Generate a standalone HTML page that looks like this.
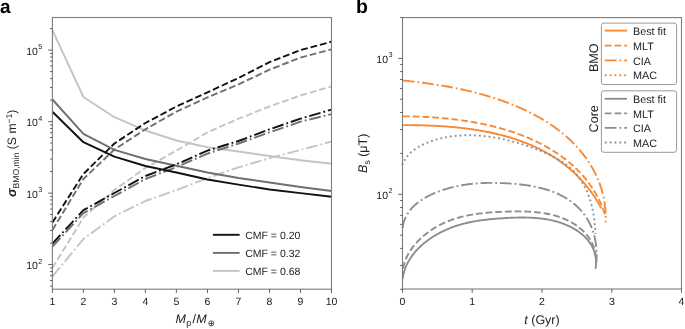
<!DOCTYPE html>
<html><head><meta charset="utf-8"><style>
html,body{margin:0;padding:0;background:#fff;}
svg{display:block;will-change:transform;}
text{font-family:"Liberation Sans", sans-serif;text-rendering:geometricPrecision;}
</style></head><body>
<svg width="685" height="329" viewBox="0 0 685 329" font-family="Liberation Sans, sans-serif">
<rect width="685" height="329" fill="#fff"/>
<text x="-0.1" y="12.9" font-size="19" font-weight="bold" fill="#000">a</text>
<text x="356.1" y="12.9" font-size="19.5" font-weight="bold" fill="#000">b</text>
<g fill="none" stroke-width="1.9" stroke-linejoin="round">
<polyline points="52.4,30.2 83.4,97.0 114.4,117.2 145.4,130.5 176.4,140.5 207.5,147.2 238.5,151.5 269.5,156.0 300.5,160.3 331.5,163.7" stroke="#c4c4c4"/>
<polyline points="52.4,268.0 83.4,217.5 114.4,190.0 145.4,168.0 176.4,150.6 207.5,132.4 238.5,118.7 269.5,106.5 300.5,95.5 331.5,86.4" stroke="#c4c4c4" stroke-dasharray="6.77 2.93"/>
<polyline points="52.4,276.5 83.4,239.0 114.4,216.3 145.4,201.0 176.4,190.1 207.5,178.0 238.5,167.3 269.5,158.2 300.5,150.0 331.5,141.5" stroke="#c4c4c4" stroke-dasharray="11.71 2.93 1.83 2.93"/>
<polyline points="52.4,99.5 83.4,133.9 114.4,149.8 145.4,159.0 176.4,165.8 207.5,172.5 238.5,178.0 269.5,182.5 300.5,187.0 331.5,191.0" stroke="#6f6f6f"/>
<polyline points="52.4,230.0 83.4,179.0 114.4,149.5 145.4,129.3 176.4,111.6 207.5,97.4 238.5,84.4 269.5,69.7 300.5,57.6 331.5,49.3" stroke="#6f6f6f" stroke-dasharray="6.77 2.93"/>
<polyline points="52.4,246.7 83.4,213.2 114.4,196.0 145.4,179.0 176.4,167.0 207.5,153.6 238.5,143.5 269.5,132.4 300.5,121.7 331.5,114.1" stroke="#6f6f6f" stroke-dasharray="11.71 2.93 1.83 2.93"/>
<polyline points="52.4,111.7 83.4,142.2 114.4,156.7 145.4,166.0 176.4,172.5 207.5,179.5 238.5,184.6 269.5,189.5 300.5,193.1 331.5,196.8" stroke="#111"/>
<polyline points="52.4,222.4 83.4,174.0 114.4,143.5 145.4,123.0 176.4,106.5 207.5,92.3 238.5,78.0 269.5,62.1 300.5,50.0 331.5,41.7" stroke="#111" stroke-dasharray="6.77 2.93"/>
<polyline points="52.4,243.6 83.4,210.2 114.4,193.0 145.4,176.0 176.4,164.3 207.5,150.6 238.5,141.0 269.5,129.3 300.5,118.7 331.5,109.6" stroke="#111" stroke-dasharray="11.71 2.93 1.83 2.93"/>
</g>
<line x1="212.9" y1="234.8" x2="239.6" y2="234.8" stroke="#111" stroke-width="1.9"/>
<text x="245.2" y="238.7" font-size="10.5" fill="#222">CMF = 0.20</text>
<line x1="212.9" y1="252.9" x2="239.6" y2="252.9" stroke="#6f6f6f" stroke-width="1.9"/>
<text x="245.2" y="256.8" font-size="10.5" fill="#222">CMF = 0.32</text>
<line x1="212.9" y1="270.9" x2="239.6" y2="270.9" stroke="#c4c4c4" stroke-width="1.9"/>
<text x="245.2" y="274.8" font-size="10.5" fill="#222">CMF = 0.68</text>
<rect x="52.4" y="17.5" width="279.1" height="271.7" fill="none" stroke="#7c7c7c" stroke-width="1.1"/>
<line x1="52.4" y1="289.2" x2="52.4" y2="293.0" stroke="#555" stroke-width="0.9"/>
<text x="52.4" y="305.3" font-size="10.5" text-anchor="middle" fill="#222">1</text>
<line x1="83.4" y1="289.2" x2="83.4" y2="293.0" stroke="#555" stroke-width="0.9"/>
<text x="83.4" y="305.3" font-size="10.5" text-anchor="middle" fill="#222">2</text>
<line x1="114.4" y1="289.2" x2="114.4" y2="293.0" stroke="#555" stroke-width="0.9"/>
<text x="114.4" y="305.3" font-size="10.5" text-anchor="middle" fill="#222">3</text>
<line x1="145.4" y1="289.2" x2="145.4" y2="293.0" stroke="#555" stroke-width="0.9"/>
<text x="145.4" y="305.3" font-size="10.5" text-anchor="middle" fill="#222">4</text>
<line x1="176.4" y1="289.2" x2="176.4" y2="293.0" stroke="#555" stroke-width="0.9"/>
<text x="176.4" y="305.3" font-size="10.5" text-anchor="middle" fill="#222">5</text>
<line x1="207.5" y1="289.2" x2="207.5" y2="293.0" stroke="#555" stroke-width="0.9"/>
<text x="207.5" y="305.3" font-size="10.5" text-anchor="middle" fill="#222">6</text>
<line x1="238.5" y1="289.2" x2="238.5" y2="293.0" stroke="#555" stroke-width="0.9"/>
<text x="238.5" y="305.3" font-size="10.5" text-anchor="middle" fill="#222">7</text>
<line x1="269.5" y1="289.2" x2="269.5" y2="293.0" stroke="#555" stroke-width="0.9"/>
<text x="269.5" y="305.3" font-size="10.5" text-anchor="middle" fill="#222">8</text>
<line x1="300.5" y1="289.2" x2="300.5" y2="293.0" stroke="#555" stroke-width="0.9"/>
<text x="300.5" y="305.3" font-size="10.5" text-anchor="middle" fill="#222">9</text>
<line x1="331.5" y1="289.2" x2="331.5" y2="293.0" stroke="#555" stroke-width="0.9"/>
<text x="331.5" y="305.3" font-size="10.5" text-anchor="middle" fill="#222">10</text>
<line x1="50.0" y1="286.1" x2="52.4" y2="286.1" stroke="#555" stroke-width="0.9"/>
<line x1="50.0" y1="280.5" x2="52.4" y2="280.5" stroke="#555" stroke-width="0.9"/>
<line x1="50.0" y1="275.7" x2="52.4" y2="275.7" stroke="#555" stroke-width="0.9"/>
<line x1="50.0" y1="271.5" x2="52.4" y2="271.5" stroke="#555" stroke-width="0.9"/>
<line x1="50.0" y1="267.9" x2="52.4" y2="267.9" stroke="#555" stroke-width="0.9"/>
<line x1="48.2" y1="264.6" x2="52.4" y2="264.6" stroke="#555" stroke-width="0.9"/>
<line x1="50.0" y1="243.1" x2="52.4" y2="243.1" stroke="#555" stroke-width="0.9"/>
<line x1="50.0" y1="230.5" x2="52.4" y2="230.5" stroke="#555" stroke-width="0.9"/>
<line x1="50.0" y1="221.6" x2="52.4" y2="221.6" stroke="#555" stroke-width="0.9"/>
<line x1="50.0" y1="214.6" x2="52.4" y2="214.6" stroke="#555" stroke-width="0.9"/>
<line x1="50.0" y1="209.0" x2="52.4" y2="209.0" stroke="#555" stroke-width="0.9"/>
<line x1="50.0" y1="204.2" x2="52.4" y2="204.2" stroke="#555" stroke-width="0.9"/>
<line x1="50.0" y1="200.0" x2="52.4" y2="200.0" stroke="#555" stroke-width="0.9"/>
<line x1="50.0" y1="196.4" x2="52.4" y2="196.4" stroke="#555" stroke-width="0.9"/>
<text x="37.9" y="269.0" font-size="10.5" text-anchor="end" fill="#222">10</text>
<text x="38.3" y="263.8" font-size="7.2" fill="#222">2</text>
<line x1="48.2" y1="193.1" x2="52.4" y2="193.1" stroke="#555" stroke-width="0.9"/>
<line x1="50.0" y1="171.6" x2="52.4" y2="171.6" stroke="#555" stroke-width="0.9"/>
<line x1="50.0" y1="159.0" x2="52.4" y2="159.0" stroke="#555" stroke-width="0.9"/>
<line x1="50.0" y1="150.1" x2="52.4" y2="150.1" stroke="#555" stroke-width="0.9"/>
<line x1="50.0" y1="143.1" x2="52.4" y2="143.1" stroke="#555" stroke-width="0.9"/>
<line x1="50.0" y1="137.5" x2="52.4" y2="137.5" stroke="#555" stroke-width="0.9"/>
<line x1="50.0" y1="132.7" x2="52.4" y2="132.7" stroke="#555" stroke-width="0.9"/>
<line x1="50.0" y1="128.5" x2="52.4" y2="128.5" stroke="#555" stroke-width="0.9"/>
<line x1="50.0" y1="124.9" x2="52.4" y2="124.9" stroke="#555" stroke-width="0.9"/>
<text x="37.9" y="197.5" font-size="10.5" text-anchor="end" fill="#222">10</text>
<text x="38.3" y="192.3" font-size="7.2" fill="#222">3</text>
<line x1="48.2" y1="121.6" x2="52.4" y2="121.6" stroke="#555" stroke-width="0.9"/>
<line x1="50.0" y1="100.1" x2="52.4" y2="100.1" stroke="#555" stroke-width="0.9"/>
<line x1="50.0" y1="87.5" x2="52.4" y2="87.5" stroke="#555" stroke-width="0.9"/>
<line x1="50.0" y1="78.6" x2="52.4" y2="78.6" stroke="#555" stroke-width="0.9"/>
<line x1="50.0" y1="71.6" x2="52.4" y2="71.6" stroke="#555" stroke-width="0.9"/>
<line x1="50.0" y1="66.0" x2="52.4" y2="66.0" stroke="#555" stroke-width="0.9"/>
<line x1="50.0" y1="61.2" x2="52.4" y2="61.2" stroke="#555" stroke-width="0.9"/>
<line x1="50.0" y1="57.0" x2="52.4" y2="57.0" stroke="#555" stroke-width="0.9"/>
<line x1="50.0" y1="53.4" x2="52.4" y2="53.4" stroke="#555" stroke-width="0.9"/>
<text x="37.9" y="126.0" font-size="10.5" text-anchor="end" fill="#222">10</text>
<text x="38.3" y="120.8" font-size="7.2" fill="#222">4</text>
<line x1="48.2" y1="50.1" x2="52.4" y2="50.1" stroke="#555" stroke-width="0.9"/>
<line x1="50.0" y1="28.6" x2="52.4" y2="28.6" stroke="#555" stroke-width="0.9"/>
<text x="37.9" y="54.5" font-size="10.5" text-anchor="end" fill="#222">10</text>
<text x="38.3" y="49.3" font-size="7.2" fill="#222">5</text>
<text y="323.2" font-size="12.5" fill="#222"><tspan x="175.6" font-style="italic">M</tspan><tspan x="186.2" font-size="9" dy="2.6">p</tspan><tspan x="192.4" dy="-2.6">/</tspan><tspan x="196.2" font-style="italic">M</tspan><tspan x="207.8" font-size="8.5" dy="3.2">⊕</tspan></text>
<text transform="translate(16.2,153.3) rotate(-90)" font-size="12.2" text-anchor="middle" fill="#222"><tspan font-style="italic" font-weight="bold" font-size="13">σ</tspan><tspan font-size="8.6" dy="3">BMO,min</tspan><tspan dy="-3"> (S m</tspan><tspan font-size="8.6" dy="-4.5">−1</tspan><tspan dy="4.5">)</tspan></text>
<g fill="none" stroke-width="1.9">
<path d="M402.57,228.02 L402.77,226.61 L403.02,225.24 L403.32,223.90 L403.67,222.58 L404.06,221.30 L404.49,220.05 L404.97,218.82 L405.49,217.63 L406.05,216.46 L406.65,215.32 L407.29,214.21 L407.96,213.13 L408.67,212.07 L409.42,211.04 L410.20,210.03 L411.01,209.05 L411.85,208.10 L412.72,207.17 L413.62,206.26 L414.55,205.38 L415.50,204.52 L416.48,203.69 L417.48,202.88 L418.51,202.09 L419.56,201.32 L420.62,200.57 L421.71,199.85 L422.81,199.14 L423.93,198.46 L425.07,197.79 L426.22,197.15 L427.39,196.52 L428.56,195.91 L429.75,195.32 L430.95,194.75 L432.15,194.19 L433.36,193.65 L434.58,193.13 L435.80,192.63 L437.03,192.14 L438.26,191.66 L439.49,191.20 L440.72,190.76 L441.95,190.32 L443.19,189.91 L444.42,189.50 L445.66,189.12 L446.90,188.74 L448.14,188.38 L449.38,188.03 L450.62,187.70 L451.87,187.37 L453.11,187.06 L454.36,186.77 L455.61,186.48 L456.86,186.21 L458.11,185.95 L459.36,185.70 L460.62,185.47 L461.87,185.24 L463.13,185.03 L464.39,184.83 L465.65,184.64 L466.92,184.46 L468.18,184.29 L469.45,184.13 L470.72,183.98 L471.99,183.85 L473.26,183.72 L474.54,183.60 L475.81,183.49 L477.09,183.39 L478.37,183.30 L479.66,183.22 L480.94,183.15 L482.23,183.09 L483.52,183.04 L484.81,182.99 L486.10,182.95 L487.40,182.92 L488.70,182.90 L490.00,182.89 L491.30,182.88 L492.61,182.88 L493.92,182.89 L495.23,182.91 L496.54,182.93 L497.86,182.96 L499.18,183.00 L500.50,183.04 L501.82,183.09 L503.15,183.14 L504.47,183.20 L505.80,183.27 L507.14,183.34 L508.47,183.42 L509.81,183.50 L511.15,183.59 L512.49,183.69 L513.82,183.80 L515.16,183.91 L516.50,184.03 L517.84,184.17 L519.18,184.30 L520.52,184.45 L521.85,184.61 L523.19,184.77 L524.52,184.95 L525.85,185.14 L527.18,185.33 L528.50,185.54 L529.82,185.75 L531.14,185.98 L532.45,186.22 L533.76,186.46 L535.07,186.73 L536.37,187.00 L537.67,187.28 L538.96,187.58 L540.24,187.89 L541.52,188.21 L542.79,188.55 L544.06,188.89 L545.32,189.26 L546.57,189.63 L547.81,190.02 L549.05,190.43 L550.28,190.84 L551.50,191.28 L552.71,191.73 L553.91,192.19 L555.10,192.67 L556.29,193.17 L557.46,193.68 L558.62,194.21 L559.77,194.75 L560.91,195.31 L562.04,195.89 L563.16,196.49 L564.27,197.10 L565.36,197.74 L566.44,198.39 L567.51,199.05 L568.56,199.74 L569.61,200.45 L570.63,201.17 L571.65,201.92 L572.65,202.68 L573.63,203.47 L574.60,204.27 L575.55,205.10 L576.49,205.94 L577.42,206.81 L578.32,207.70 L579.21,208.60 L580.08,209.53 L580.93,210.47 L581.77,211.44 L582.58,212.42 L583.38,213.42 L584.16,214.43 L584.91,215.47 L585.65,216.52 L586.36,217.59 L587.05,218.68 L587.72,219.78 L588.37,220.89 L588.99,222.03 L589.59,223.17 L590.17,224.33 L590.72,225.51 L591.24,226.70 L591.74,227.91 L592.22,229.12 L592.67,230.35 L593.09,231.60 L593.49,232.85 L593.86,234.11 L594.21,235.39 L594.53,236.67 L594.83,237.96 L595.11,239.26 L595.36,240.56 L595.59,241.88 L595.79,243.19 L595.97,244.52 L596.13,245.84 L596.26,247.17 L596.38,248.51 L596.47,249.84 L596.54,251.18 L596.58,252.51 L596.61,253.85 L596.61,255.19 L596.60,256.52 L596.56,257.86 L596.50,259.19 L596.42,260.51 L596.32,261.83" stroke="#8e8e8e" stroke-dasharray="11.71 2.93 1.83 2.93"/>
<path d="M403.03,268.67 L403.25,267.48 L403.50,266.31 L403.78,265.14 L404.10,263.98 L404.44,262.83 L404.82,261.69 L405.23,260.56 L405.66,259.44 L406.13,258.34 L406.62,257.24 L407.15,256.15 L407.70,255.07 L408.27,254.01 L408.87,252.95 L409.50,251.91 L410.15,250.88 L410.82,249.86 L411.52,248.85 L412.24,247.85 L412.98,246.87 L413.75,245.90 L414.53,244.94 L415.33,243.99 L416.15,243.06 L416.99,242.14 L417.85,241.23 L418.73,240.34 L419.62,239.46 L420.52,238.59 L421.45,237.74 L422.38,236.90 L423.33,236.08 L424.30,235.27 L425.27,234.47 L426.26,233.69 L427.26,232.93 L428.27,232.18 L429.29,231.45 L430.31,230.73 L431.35,230.03 L432.39,229.34 L433.45,228.67 L434.50,228.01 L435.57,227.38 L436.63,226.76 L437.71,226.15 L438.78,225.56 L439.87,224.99 L440.95,224.44 L442.04,223.90 L443.13,223.38 L444.23,222.87 L445.33,222.38 L446.43,221.90 L447.54,221.44 L448.66,220.99 L449.77,220.56 L450.89,220.14 L452.01,219.73 L453.14,219.34 L454.27,218.96 L455.41,218.59 L456.54,218.24 L457.69,217.90 L458.83,217.57 L459.98,217.26 L461.13,216.95 L462.29,216.66 L463.44,216.38 L464.61,216.10 L465.77,215.84 L466.94,215.59 L468.11,215.36 L469.29,215.13 L470.46,214.91 L471.65,214.70 L472.83,214.50 L474.02,214.30 L475.21,214.12 L476.40,213.95 L477.60,213.78 L478.80,213.62 L480.00,213.47 L481.21,213.33 L482.41,213.19 L483.62,213.06 L484.84,212.94 L486.06,212.82 L487.27,212.71 L488.50,212.61 L489.72,212.51 L490.95,212.42 L492.18,212.33 L493.41,212.25 L494.65,212.17 L495.88,212.10 L497.13,212.03 L498.37,211.96 L499.61,211.90 L500.86,211.85 L502.11,211.79 L503.36,211.74 L504.62,211.69 L505.87,211.64 L507.13,211.60 L508.39,211.56 L509.65,211.53 L510.92,211.50 L512.18,211.47 L513.44,211.45 L514.71,211.43 L515.98,211.42 L517.24,211.41 L518.51,211.41 L519.77,211.42 L521.04,211.43 L522.30,211.45 L523.56,211.48 L524.82,211.51 L526.08,211.55 L527.34,211.60 L528.60,211.66 L529.85,211.73 L531.11,211.80 L532.36,211.89 L533.60,211.99 L534.85,212.09 L536.09,212.21 L537.32,212.33 L538.56,212.47 L539.79,212.61 L541.01,212.77 L542.23,212.94 L543.45,213.13 L544.66,213.32 L545.87,213.53 L547.07,213.75 L548.26,213.98 L549.46,214.23 L550.64,214.49 L551.82,214.77 L552.99,215.06 L554.16,215.36 L555.31,215.68 L556.47,216.02 L557.61,216.37 L558.75,216.73 L559.88,217.12 L561.00,217.52 L562.11,217.93 L563.22,218.37 L564.31,218.82 L565.40,219.29 L566.48,219.77 L567.55,220.28 L568.61,220.80 L569.66,221.34 L570.70,221.91 L571.73,222.49 L572.75,223.09 L573.76,223.71 L574.76,224.35 L575.75,225.02 L576.72,225.70 L577.69,226.41 L578.64,227.14 L579.58,227.89 L580.51,228.66 L581.42,229.45 L582.32,230.27 L583.20,231.10 L584.06,231.96 L584.91,232.84 L585.73,233.75 L586.52,234.67 L587.30,235.62 L588.04,236.58 L588.76,237.57 L589.45,238.58 L590.12,239.62 L590.75,240.67 L591.34,241.74 L591.91,242.84 L592.44,243.95 L592.94,245.09 L593.41,246.23 L593.84,247.40 L594.25,248.58 L594.61,249.77 L594.95,250.98 L595.26,252.19 L595.53,253.42 L595.77,254.66 L595.97,255.91 L596.15,257.16 L596.29,258.42 L596.40,259.68 L596.47,260.95 L596.51,262.23" stroke="#8e8e8e" stroke-dasharray="6.77 2.93"/>
<path d="M402.74,278.73 L402.90,277.49 L403.09,276.26 L403.31,275.04 L403.57,273.83 L403.87,272.63 L404.20,271.45 L404.56,270.27 L404.95,269.11 L405.37,267.96 L405.82,266.82 L406.30,265.69 L406.81,264.58 L407.35,263.48 L407.91,262.39 L408.51,261.31 L409.12,260.24 L409.77,259.19 L410.44,258.15 L411.13,257.12 L411.85,256.10 L412.58,255.10 L413.35,254.11 L414.13,253.14 L414.93,252.18 L415.76,251.23 L416.60,250.29 L417.46,249.37 L418.34,248.46 L419.24,247.57 L420.16,246.69 L421.09,245.82 L422.04,244.97 L423.00,244.14 L423.97,243.31 L424.96,242.50 L425.97,241.71 L426.98,240.93 L428.01,240.17 L429.05,239.42 L430.09,238.68 L431.15,237.96 L432.22,237.26 L433.29,236.57 L434.38,235.90 L435.47,235.24 L436.56,234.60 L437.66,233.97 L438.77,233.36 L439.88,232.76 L440.99,232.19 L442.11,231.62 L443.23,231.08 L444.36,230.54 L445.49,230.03 L446.62,229.52 L447.75,229.04 L448.89,228.57 L450.03,228.11 L451.18,227.66 L452.33,227.23 L453.48,226.81 L454.63,226.41 L455.79,226.02 L456.95,225.64 L458.12,225.27 L459.28,224.92 L460.45,224.58 L461.62,224.25 L462.80,223.93 L463.98,223.62 L465.16,223.32 L466.35,223.04 L467.53,222.76 L468.72,222.50 L469.92,222.24 L471.11,221.99 L472.31,221.76 L473.51,221.53 L474.72,221.31 L475.92,221.10 L477.13,220.90 L478.35,220.71 L479.56,220.53 L480.78,220.35 L482.00,220.18 L483.22,220.02 L484.45,219.86 L485.67,219.71 L486.90,219.57 L488.13,219.44 L489.37,219.31 L490.61,219.18 L491.84,219.06 L493.09,218.95 L494.33,218.84 L495.58,218.74 L496.82,218.64 L498.07,218.54 L499.33,218.45 L500.58,218.37 L501.84,218.28 L503.10,218.20 L504.36,218.13 L505.62,218.05 L506.88,217.98 L508.15,217.91 L509.42,217.85 L510.68,217.79 L511.95,217.74 L513.22,217.69 L514.49,217.65 L515.77,217.61 L517.04,217.58 L518.31,217.55 L519.58,217.53 L520.85,217.52 L522.12,217.52 L523.39,217.52 L524.66,217.53 L525.93,217.55 L527.20,217.58 L528.46,217.61 L529.73,217.66 L530.99,217.71 L532.25,217.78 L533.51,217.85 L534.77,217.94 L536.02,218.03 L537.27,218.14 L538.52,218.26 L539.77,218.39 L541.01,218.53 L542.25,218.68 L543.49,218.85 L544.72,219.03 L545.95,219.22 L547.17,219.43 L548.39,219.65 L549.60,219.88 L550.82,220.13 L552.02,220.40 L553.22,220.68 L554.42,220.97 L555.61,221.28 L556.79,221.61 L557.97,221.95 L559.15,222.31 L560.31,222.69 L561.47,223.08 L562.63,223.49 L563.78,223.92 L564.92,224.37 L566.05,224.84 L567.18,225.32 L568.30,225.83 L569.41,226.35 L570.52,226.90 L571.61,227.46 L572.70,228.04 L573.77,228.65 L574.84,229.27 L575.89,229.92 L576.93,230.59 L577.95,231.27 L578.95,231.98 L579.94,232.71 L580.91,233.46 L581.86,234.23 L582.79,235.02 L583.69,235.83 L584.58,236.66 L585.44,237.52 L586.27,238.39 L587.08,239.29 L587.86,240.21 L588.61,241.15 L589.34,242.11 L590.03,243.10 L590.69,244.11 L591.32,245.13 L591.91,246.18 L592.47,247.26 L592.99,248.35 L593.47,249.47 L593.92,250.61 L594.33,251.77 L594.69,252.96 L595.02,254.17 L595.30,255.40 L595.53,256.65 L595.72,257.93 L595.87,259.23 L595.97,260.55 L596.02,261.90 L596.02,263.27 L595.97,264.66 L595.86,266.08 L595.71,267.52 L595.50,268.99" stroke="#8e8e8e"/>
<path d="M402.87,80.45 L404.21,80.59 L405.54,80.73 L406.87,80.87 L408.21,81.02 L409.55,81.17 L410.88,81.32 L412.22,81.47 L413.56,81.63 L414.90,81.79 L416.25,81.95 L417.59,82.11 L418.93,82.28 L420.28,82.45 L421.62,82.62 L422.96,82.80 L424.31,82.98 L425.66,83.16 L427.00,83.35 L428.35,83.53 L429.70,83.73 L431.05,83.92 L432.39,84.12 L433.74,84.32 L435.09,84.53 L436.44,84.74 L437.79,84.95 L439.14,85.17 L440.49,85.39 L441.84,85.61 L443.19,85.84 L444.54,86.07 L445.89,86.31 L447.23,86.55 L448.58,86.80 L449.93,87.05 L451.28,87.30 L452.63,87.56 L453.98,87.82 L455.33,88.08 L456.67,88.36 L458.02,88.63 L459.37,88.91 L460.71,89.20 L462.06,89.49 L463.40,89.78 L464.74,90.08 L466.09,90.38 L467.43,90.69 L468.77,91.01 L470.11,91.33 L471.45,91.65 L472.79,91.98 L474.13,92.32 L475.47,92.66 L476.80,93.00 L478.14,93.35 L479.47,93.71 L480.80,94.07 L482.14,94.44 L483.47,94.81 L484.79,95.19 L486.12,95.58 L487.45,95.97 L488.77,96.37 L490.10,96.77 L491.42,97.18 L492.74,97.59 L494.06,98.02 L495.38,98.44 L496.69,98.88 L498.01,99.32 L499.32,99.76 L500.63,100.22 L501.94,100.68 L503.24,101.14 L504.55,101.62 L505.85,102.10 L507.15,102.58 L508.45,103.08 L509.75,103.58 L511.04,104.08 L512.33,104.60 L513.62,105.12 L514.91,105.65 L516.19,106.18 L517.47,106.73 L518.74,107.28 L520.02,107.83 L521.28,108.40 L522.55,108.97 L523.81,109.55 L525.07,110.14 L526.32,110.73 L527.57,111.33 L528.81,111.94 L530.05,112.56 L531.29,113.19 L532.52,113.82 L533.74,114.46 L534.96,115.11 L536.18,115.77 L537.39,116.43 L538.59,117.10 L539.79,117.79 L540.98,118.47 L542.17,119.17 L543.35,119.88 L544.53,120.59 L545.70,121.31 L546.86,122.05 L548.01,122.79 L549.16,123.53 L550.30,124.29 L551.44,125.06 L552.57,125.83 L553.69,126.61 L554.80,127.40 L555.90,128.20 L557.00,129.01 L558.09,129.83 L559.17,130.66 L560.25,131.50 L561.31,132.34 L562.37,133.20 L563.42,134.06 L564.46,134.94 L565.49,135.82 L566.52,136.71 L567.53,137.61 L568.53,138.52 L569.53,139.44 L570.52,140.37 L571.49,141.31 L572.46,142.26 L573.41,143.22 L574.36,144.19 L575.30,145.17 L576.22,146.16 L577.14,147.16 L578.04,148.17 L578.94,149.18 L579.82,150.21 L580.69,151.25 L581.55,152.29 L582.40,153.35 L583.24,154.41 L584.06,155.48 L584.87,156.57 L585.67,157.66 L586.46,158.76 L587.24,159.87 L588.00,160.98 L588.75,162.11 L589.48,163.25 L590.20,164.39 L590.91,165.54 L591.60,166.71 L592.28,167.88 L592.95,169.05 L593.60,170.24 L594.23,171.44 L594.85,172.64 L595.46,173.85 L596.05,175.07 L596.62,176.30 L597.18,177.54 L597.72,178.78 L598.25,180.04 L598.76,181.30 L599.26,182.56 L599.74,183.84 L600.20,185.12 L600.64,186.42 L601.07,187.71 L601.48,189.02 L601.87,190.34 L602.24,191.66 L602.60,192.99 L602.94,194.32 L603.26,195.67 L603.56,197.02 L603.84,198.38 L604.11,199.74 L604.35,201.11 L604.58,202.49 L604.78,203.88 L604.97,205.27 L605.13,206.67 L605.28,208.08 L605.41,209.50 L605.51,210.92 L605.60,212.34 L605.66,213.78 L605.71,215.22 L605.73,216.66 L605.73,218.12 L605.71,219.58 L605.67,221.04 L605.60,222.51" stroke="#f88a36" stroke-dasharray="11.71 2.93 1.83 2.93"/>
<path d="M403.10,116.34 L404.24,116.35 L405.38,116.36 L406.53,116.37 L407.68,116.39 L408.83,116.40 L409.99,116.43 L411.15,116.45 L412.31,116.47 L413.48,116.50 L414.64,116.53 L415.81,116.57 L416.99,116.61 L418.16,116.65 L419.34,116.69 L420.52,116.73 L421.70,116.78 L422.89,116.83 L424.07,116.89 L425.26,116.95 L426.45,117.01 L427.65,117.07 L428.84,117.14 L430.04,117.21 L431.24,117.29 L432.44,117.36 L433.64,117.44 L434.85,117.53 L436.05,117.62 L437.26,117.71 L438.47,117.80 L439.68,117.90 L440.89,118.00 L442.10,118.11 L443.32,118.22 L444.53,118.33 L445.75,118.45 L446.96,118.57 L448.18,118.70 L449.40,118.82 L450.62,118.96 L451.84,119.09 L453.06,119.23 L454.28,119.38 L455.50,119.53 L456.72,119.68 L457.94,119.84 L459.17,120.00 L460.39,120.16 L461.61,120.33 L462.84,120.51 L464.06,120.69 L465.28,120.87 L466.50,121.06 L467.73,121.25 L468.95,121.45 L470.17,121.65 L471.39,121.85 L472.61,122.06 L473.83,122.28 L475.05,122.50 L476.27,122.72 L477.49,122.95 L478.71,123.19 L479.93,123.43 L481.14,123.67 L482.36,123.92 L483.57,124.17 L484.79,124.43 L486.00,124.70 L487.21,124.96 L488.42,125.24 L489.63,125.52 L490.83,125.80 L492.04,126.09 L493.24,126.39 L494.44,126.69 L495.64,127.00 L496.84,127.31 L498.04,127.62 L499.23,127.95 L500.42,128.28 L501.61,128.61 L502.80,128.95 L503.99,129.29 L505.17,129.64 L506.35,130.00 L507.53,130.36 L508.71,130.73 L509.88,131.11 L511.05,131.49 L512.22,131.87 L513.39,132.26 L514.55,132.66 L515.71,133.06 L516.87,133.47 L518.03,133.89 L519.18,134.31 L520.32,134.74 L521.47,135.18 L522.61,135.62 L523.75,136.07 L524.89,136.52 L526.02,136.98 L527.15,137.45 L528.27,137.92 L529.39,138.40 L530.51,138.89 L531.62,139.38 L532.73,139.88 L533.84,140.39 L534.94,140.90 L536.04,141.42 L537.13,141.94 L538.22,142.48 L539.30,143.02 L540.38,143.57 L541.46,144.12 L542.53,144.68 L543.60,145.25 L544.66,145.83 L545.72,146.41 L546.77,147.00 L547.82,147.60 L548.86,148.20 L549.90,148.81 L550.94,149.43 L551.97,150.06 L552.99,150.69 L554.01,151.33 L555.02,151.98 L556.03,152.63 L557.03,153.30 L558.02,153.97 L559.01,154.65 L560.00,155.33 L560.97,156.03 L561.94,156.73 L562.91,157.44 L563.87,158.16 L564.82,158.88 L565.77,159.61 L566.71,160.36 L567.64,161.10 L568.56,161.86 L569.48,162.63 L570.39,163.40 L571.30,164.18 L572.19,164.97 L573.08,165.77 L573.96,166.57 L574.84,167.38 L575.70,168.21 L576.56,169.04 L577.41,169.87 L578.25,170.72 L579.09,171.58 L579.91,172.44 L580.73,173.31 L581.54,174.19 L582.34,175.08 L583.13,175.98 L583.92,176.88 L584.69,177.80 L585.45,178.72 L586.21,179.65 L586.96,180.60 L587.69,181.55 L588.42,182.50 L589.14,183.47 L589.85,184.45 L590.55,185.43 L591.24,186.43 L591.92,187.43 L592.59,188.44 L593.25,189.46 L593.89,190.49 L594.53,191.53 L595.16,192.58 L595.78,193.64 L596.39,194.71 L596.98,195.78 L597.57,196.87 L598.14,197.96 L598.70,199.07 L599.25,200.18 L599.80,201.31 L600.32,202.44 L600.84,203.58 L601.35,204.73 L601.84,205.89 L602.32,207.07 L602.79,208.25 L603.25,209.44 L603.70,210.64 L604.13,211.85 L604.55,213.07 L604.96,214.30 L605.36,215.54 L605.74,216.79" stroke="#f88a36" stroke-dasharray="6.77 2.93"/>
<path d="M402.84,125.14 L403.93,125.14 L405.03,125.13 L406.13,125.14 L407.23,125.14 L408.33,125.14 L409.43,125.15 L410.54,125.16 L411.65,125.17 L412.76,125.18 L413.87,125.19 L414.99,125.21 L416.11,125.22 L417.22,125.24 L418.34,125.26 L419.47,125.29 L420.59,125.31 L421.71,125.34 L422.84,125.37 L423.97,125.40 L425.10,125.43 L426.23,125.47 L427.36,125.51 L428.49,125.55 L429.63,125.59 L430.77,125.64 L431.90,125.69 L433.04,125.74 L434.18,125.79 L435.32,125.85 L436.46,125.91 L437.60,125.97 L438.74,126.03 L439.89,126.10 L441.03,126.17 L442.18,126.24 L443.32,126.32 L444.47,126.40 L445.62,126.48 L446.76,126.56 L447.91,126.65 L449.06,126.74 L450.21,126.84 L451.35,126.93 L452.50,127.04 L453.65,127.14 L454.80,127.25 L455.95,127.36 L457.10,127.47 L458.25,127.59 L459.40,127.71 L460.55,127.84 L461.70,127.97 L462.85,128.10 L463.99,128.24 L465.14,128.38 L466.29,128.52 L467.44,128.67 L468.58,128.82 L469.73,128.98 L470.88,129.14 L472.02,129.30 L473.17,129.47 L474.31,129.64 L475.45,129.82 L476.60,130.00 L477.74,130.18 L478.88,130.37 L480.02,130.57 L481.16,130.77 L482.30,130.97 L483.43,131.18 L484.57,131.39 L485.70,131.60 L486.84,131.82 L487.97,132.05 L489.10,132.28 L490.23,132.51 L491.35,132.75 L492.48,133.00 L493.61,133.25 L494.73,133.50 L495.85,133.76 L496.97,134.03 L498.09,134.30 L499.20,134.57 L500.32,134.85 L501.43,135.13 L502.54,135.42 L503.65,135.72 L504.76,136.02 L505.86,136.33 L506.96,136.64 L508.06,136.96 L509.16,137.28 L510.26,137.61 L511.35,137.94 L512.44,138.28 L513.53,138.62 L514.62,138.97 L515.70,139.33 L516.78,139.69 L517.86,140.06 L518.94,140.43 L520.01,140.81 L521.08,141.20 L522.15,141.59 L523.21,141.99 L524.27,142.39 L525.33,142.81 L526.39,143.22 L527.44,143.64 L528.49,144.07 L529.54,144.51 L530.58,144.95 L531.62,145.40 L532.66,145.85 L533.69,146.31 L534.72,146.78 L535.75,147.26 L536.77,147.74 L537.79,148.23 L538.81,148.72 L539.82,149.22 L540.83,149.73 L541.83,150.24 L542.83,150.77 L543.83,151.29 L544.82,151.83 L545.81,152.37 L546.80,152.92 L547.78,153.48 L548.76,154.04 L549.73,154.62 L550.70,155.19 L551.66,155.78 L552.62,156.37 L553.58,156.97 L554.53,157.58 L555.48,158.20 L556.42,158.82 L557.36,159.45 L558.29,160.09 L559.22,160.74 L560.15,161.39 L561.07,162.05 L561.98,162.72 L562.89,163.40 L563.79,164.08 L564.69,164.77 L565.59,165.47 L566.48,166.18 L567.36,166.89 L568.24,167.62 L569.11,168.35 L569.98,169.08 L570.84,169.83 L571.70,170.58 L572.55,171.34 L573.39,172.10 L574.23,172.87 L575.06,173.65 L575.88,174.44 L576.70,175.24 L577.51,176.04 L578.32,176.85 L579.12,177.66 L579.91,178.48 L580.70,179.31 L581.48,180.15 L582.25,180.99 L583.01,181.84 L583.77,182.70 L584.52,183.56 L585.26,184.43 L586.00,185.31 L586.73,186.20 L587.45,187.09 L588.16,187.98 L588.87,188.89 L589.57,189.80 L590.26,190.72 L590.94,191.64 L591.61,192.57 L592.28,193.51 L592.93,194.45 L593.58,195.40 L594.22,196.35 L594.85,197.32 L595.48,198.28 L596.09,199.26 L596.70,200.24 L597.29,201.23 L597.88,202.22 L598.46,203.22 L599.03,204.23 L599.59,205.24 L600.14,206.25 L600.68,207.28 L601.21,208.31" stroke="#f88a36"/>
<path d="M402.17,165.14 L402.71,163.82 L403.30,162.55 L403.93,161.32 L404.60,160.13 L405.31,158.99 L406.05,157.89 L406.83,156.84 L407.64,155.82 L408.48,154.85 L409.36,153.91 L410.26,153.01 L411.19,152.14 L412.15,151.31 L413.13,150.51 L414.13,149.74 L415.16,149.01 L416.21,148.30 L417.28,147.62 L418.36,146.97 L419.47,146.35 L420.58,145.75 L421.71,145.17 L422.86,144.61 L424.01,144.08 L425.17,143.57 L426.35,143.07 L427.52,142.59 L428.71,142.13 L429.90,141.68 L431.09,141.25 L432.29,140.84 L433.49,140.44 L434.70,140.06 L435.92,139.69 L437.14,139.34 L438.36,139.01 L439.59,138.69 L440.82,138.38 L442.06,138.09 L443.30,137.82 L444.54,137.56 L445.79,137.31 L447.04,137.08 L448.30,136.86 L449.56,136.66 L450.82,136.47 L452.09,136.30 L453.36,136.14 L454.63,135.99 L455.90,135.86 L457.18,135.74 L458.46,135.63 L459.75,135.54 L461.03,135.46 L462.32,135.39 L463.61,135.34 L464.90,135.30 L466.20,135.27 L467.50,135.25 L468.79,135.25 L470.09,135.26 L471.40,135.28 L472.70,135.31 L474.00,135.36 L475.31,135.41 L476.62,135.48 L477.92,135.56 L479.23,135.65 L480.54,135.75 L481.85,135.87 L483.16,135.99 L484.47,136.13 L485.79,136.27 L487.10,136.43 L488.41,136.60 L489.72,136.78 L491.03,136.96 L492.34,137.16 L493.65,137.37 L494.96,137.59 L496.27,137.82 L497.58,138.05 L498.89,138.30 L500.20,138.56 L501.50,138.82 L502.81,139.10 L504.11,139.38 L505.42,139.68 L506.72,139.98 L508.01,140.29 L509.31,140.61 L510.61,140.93 L511.90,141.27 L513.19,141.61 L514.48,141.96 L515.77,142.32 L517.05,142.69 L518.33,143.07 L519.61,143.45 L520.89,143.84 L522.16,144.24 L523.43,144.64 L524.70,145.05 L525.96,145.47 L527.22,145.90 L528.48,146.33 L529.73,146.77 L530.98,147.21 L532.22,147.66 L533.47,148.12 L534.70,148.58 L535.94,149.05 L537.16,149.53 L538.39,150.01 L539.61,150.50 L540.82,150.99 L542.03,151.49 L543.24,151.99 L544.44,152.50 L545.63,153.02 L546.81,153.55 L547.99,154.09 L549.16,154.63 L550.32,155.19 L551.48,155.75 L552.62,156.32 L553.76,156.91 L554.88,157.51 L556.00,158.11 L557.11,158.73 L558.20,159.37 L559.29,160.01 L560.36,160.67 L561.42,161.34 L562.47,162.03 L563.51,162.73 L564.53,163.45 L565.54,164.18 L566.54,164.93 L567.52,165.70 L568.48,166.48 L569.44,167.28 L570.37,168.09 L571.29,168.93 L572.20,169.78 L573.09,170.66 L573.96,171.55 L574.81,172.46 L575.65,173.40 L576.47,174.35 L577.27,175.32 L578.05,176.32 L578.82,177.33 L579.57,178.36 L580.29,179.40 L581.01,180.47 L581.70,181.54 L582.37,182.64 L583.03,183.75 L583.67,184.87 L584.29,186.01 L584.89,187.16 L585.48,188.33 L586.04,189.51 L586.59,190.70 L587.12,191.90 L587.63,193.11 L588.12,194.33 L588.59,195.56 L589.05,196.80 L589.48,198.05 L589.90,199.31 L590.30,200.57 L590.68,201.84 L591.04,203.12 L591.39,204.40 L591.72,205.69 L592.03,206.98 L592.33,208.27 L592.61,209.57 L592.88,210.87 L593.13,212.17 L593.36,213.47 L593.58,214.77 L593.79,216.07 L593.99,217.37 L594.17,218.67 L594.33,219.97 L594.49,221.26 L594.63,222.55 L594.76,223.84 L594.88,225.12 L594.99,226.39 L595.09,227.66 L595.17,228.92 L595.25,230.17 L595.31,231.42 L595.37,232.66 L595.42,233.89" stroke="#8e8e8e" stroke-dasharray="1.83 3.02"/>
</g>
<rect x="402.5" y="17.6" width="279.0" height="271.4" fill="none" stroke="#7c7c7c" stroke-width="1.1"/>
<line x1="402.5" y1="289.0" x2="402.5" y2="292.8" stroke="#555" stroke-width="0.9"/>
<text x="402.5" y="305.3" font-size="10.5" text-anchor="middle" fill="#222">0</text>
<line x1="472.2" y1="289.0" x2="472.2" y2="292.8" stroke="#555" stroke-width="0.9"/>
<text x="472.2" y="305.3" font-size="10.5" text-anchor="middle" fill="#222">1</text>
<line x1="542.0" y1="289.0" x2="542.0" y2="292.8" stroke="#555" stroke-width="0.9"/>
<text x="542.0" y="305.3" font-size="10.5" text-anchor="middle" fill="#222">2</text>
<line x1="611.8" y1="289.0" x2="611.8" y2="292.8" stroke="#555" stroke-width="0.9"/>
<text x="611.8" y="305.3" font-size="10.5" text-anchor="middle" fill="#222">3</text>
<line x1="681.5" y1="289.0" x2="681.5" y2="292.8" stroke="#555" stroke-width="0.9"/>
<text x="681.5" y="305.3" font-size="10.5" text-anchor="middle" fill="#222">4</text>
<line x1="400.1" y1="289.3" x2="402.5" y2="289.3" stroke="#555" stroke-width="0.9"/>
<line x1="400.1" y1="265.4" x2="402.5" y2="265.4" stroke="#555" stroke-width="0.9"/>
<line x1="400.1" y1="248.4" x2="402.5" y2="248.4" stroke="#555" stroke-width="0.9"/>
<line x1="400.1" y1="235.2" x2="402.5" y2="235.2" stroke="#555" stroke-width="0.9"/>
<line x1="400.1" y1="224.4" x2="402.5" y2="224.4" stroke="#555" stroke-width="0.9"/>
<line x1="400.1" y1="215.4" x2="402.5" y2="215.4" stroke="#555" stroke-width="0.9"/>
<line x1="400.1" y1="207.5" x2="402.5" y2="207.5" stroke="#555" stroke-width="0.9"/>
<line x1="400.1" y1="200.5" x2="402.5" y2="200.5" stroke="#555" stroke-width="0.9"/>
<line x1="398.3" y1="194.3" x2="402.5" y2="194.3" stroke="#555" stroke-width="0.9"/>
<line x1="400.1" y1="153.4" x2="402.5" y2="153.4" stroke="#555" stroke-width="0.9"/>
<line x1="400.1" y1="129.5" x2="402.5" y2="129.5" stroke="#555" stroke-width="0.9"/>
<line x1="400.1" y1="112.5" x2="402.5" y2="112.5" stroke="#555" stroke-width="0.9"/>
<line x1="400.1" y1="99.3" x2="402.5" y2="99.3" stroke="#555" stroke-width="0.9"/>
<line x1="400.1" y1="88.5" x2="402.5" y2="88.5" stroke="#555" stroke-width="0.9"/>
<line x1="400.1" y1="79.5" x2="402.5" y2="79.5" stroke="#555" stroke-width="0.9"/>
<line x1="400.1" y1="71.6" x2="402.5" y2="71.6" stroke="#555" stroke-width="0.9"/>
<line x1="400.1" y1="64.6" x2="402.5" y2="64.6" stroke="#555" stroke-width="0.9"/>
<text x="388.0" y="198.7" font-size="10.5" text-anchor="end" fill="#222">10</text>
<text x="388.4" y="193.0" font-size="7.2" fill="#222">2</text>
<line x1="398.3" y1="58.4" x2="402.5" y2="58.4" stroke="#555" stroke-width="0.9"/>
<line x1="400.1" y1="17.5" x2="402.5" y2="17.5" stroke="#555" stroke-width="0.9"/>
<text x="388.0" y="62.8" font-size="10.5" text-anchor="end" fill="#222">10</text>
<text x="388.4" y="57.1" font-size="7.2" fill="#222">3</text>
<text x="542" y="323.6" font-size="12.5" text-anchor="middle" fill="#222"><tspan font-style="italic">t</tspan> (Gyr)</text>
<text transform="translate(366.6,153.3) rotate(-90)" font-size="12.5" text-anchor="middle" fill="#222"><tspan font-style="italic">B</tspan><tspan font-size="8.6" dy="3">s</tspan><tspan dy="-3"> (μT)</tspan></text>
<rect x="601.4" y="23.1" width="75.2" height="61.5" rx="2.5" fill="#fff" stroke="#999" stroke-width="1"/>
<rect x="601.4" y="90.8" width="75.2" height="61.5" rx="2.5" fill="#fff" stroke="#999" stroke-width="1"/>
<line x1="604.8" y1="30.6" x2="627.0" y2="30.6" stroke="#f88a36" stroke-width="1.9"/>
<text x="633" y="34.8" font-size="10.8" fill="#222">Best fit</text>
<line x1="604.8" y1="45.6" x2="627.0" y2="45.6" stroke="#f88a36" stroke-width="1.9" stroke-dasharray="6.77 2.93"/>
<text x="633" y="49.8" font-size="10.8" fill="#222">MLT</text>
<line x1="604.8" y1="60.4" x2="627.0" y2="60.4" stroke="#f88a36" stroke-width="1.9" stroke-dasharray="11.71 2.93 1.83 2.93"/>
<text x="633" y="64.6" font-size="10.8" fill="#222">CIA</text>
<line x1="604.8" y1="75.2" x2="627.0" y2="75.2" stroke="#f88a36" stroke-width="1.9" stroke-dasharray="1.83 3.02"/>
<text x="633" y="79.4" font-size="10.8" fill="#222">MAC</text>
<text transform="translate(598.4,57.7) rotate(-90)" font-size="12.6" text-anchor="middle" fill="#222">BMO</text>
<line x1="604.8" y1="98.8" x2="627.0" y2="98.8" stroke="#8e8e8e" stroke-width="1.9"/>
<text x="633" y="103.0" font-size="10.8" fill="#222">Best fit</text>
<line x1="604.8" y1="113.4" x2="627.0" y2="113.4" stroke="#8e8e8e" stroke-width="1.9" stroke-dasharray="6.77 2.93"/>
<text x="633" y="117.6" font-size="10.8" fill="#222">MLT</text>
<line x1="604.8" y1="127.9" x2="627.0" y2="127.9" stroke="#8e8e8e" stroke-width="1.9" stroke-dasharray="11.71 2.93 1.83 2.93"/>
<text x="633" y="132.1" font-size="10.8" fill="#222">CIA</text>
<line x1="604.8" y1="142.5" x2="627.0" y2="142.5" stroke="#8e8e8e" stroke-width="1.9" stroke-dasharray="1.83 3.02"/>
<text x="633" y="146.7" font-size="10.8" fill="#222">MAC</text>
<text transform="translate(598.4,118.8) rotate(-90)" font-size="12.6" text-anchor="middle" fill="#222">Core</text>
</svg>
</body></html>
